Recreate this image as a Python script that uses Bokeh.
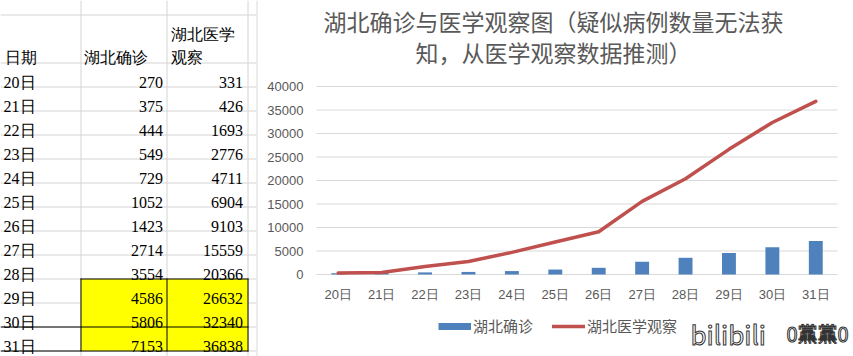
from bokeh.plotting import figure
from bokeh.models import Range1d, Legend, LegendItem, ColumnDataSource, Label
from bokeh.embed import file_html
from bokeh.resources import INLINE
from bokeh.core.properties import value

# ---------------- data ----------------
days = ["20日", "21日", "22日", "23日", "24日", "25日",
        "26日", "27日", "28日", "29日", "30日", "31日"]
confirmed = [270, 375, 444, 549, 729, 1052, 1423, 2714, 3554, 4586, 5806, 7153]
observed = [331, 426, 1693, 2776, 4711, 6904, 9103, 15559, 20366, 26632, 32340, 36838]
y_ticks = [0, 5000, 10000, 15000, 20000, 25000, 30000, 35000, 40000]
header_day = "日期"
header_confirmed = "湖北确诊"
header_observed = ["湖北医学", "观察"]
series_names = ["湖北确诊", "湖北医学观察"]
title_lines = ["湖北确诊与医学观察图（疑似病例数量无法获", "知，从医学观察数据推测）"]
highlight_days = ["29日", "30日", "31日"]
watermark_parts = ["bilibili", "0黨黨0"]

# ---------------- page geometry ----------------
W, H = 853, 356
FR_L, FR_R, FR_T, FR_B = 316, 837, 86, 274     # chart plot area (pixels)
YMAX = y_ticks[-1]
GRAY = "#595959"
GRID = "#D4D4D4"

p = figure(width=W, height=H, x_range=Range1d(0, W), y_range=Range1d(H, 0),
           output_backend="svg", toolbar_location=None, min_border=0,
           x_axis_type=None, y_axis_type=None, title=None)
p.grid.visible = False
p.outline_line_color = None

n = len(days)
cw = (FR_R - FR_L) / n
vpp = YMAX / (FR_B - FR_T)
p.extra_x_ranges = {"cat": Range1d(-FR_L / cw, n + (W - FR_R) / cw)}
p.extra_y_ranges = {"val": Range1d(-(H - FR_B) * vpp, YMAX + FR_T * vpp)}

# ---------------- table (spreadsheet cells) ----------------
row_top0, row_h = 62, 24
col_lines = [80.5, 166.5, 247.5]
row_tops = [row_top0 + i * row_h for i in range(n)]
h_lines = [14.5] + [row_top0 + i * row_h + 0.5 for i in range(n + 1)]
p.segment(x0=[0] * len(h_lines), x1=[256] * len(h_lines), y0=h_lines, y1=h_lines,
          line_color=GRID, line_width=1)
p.segment(x0=col_lines, x1=col_lines, y0=[0] * 3, y1=[H] * 3,
          line_color=GRID, line_width=1)
# chart object border
p.segment(x0=[256.5], x1=[256.5], y0=[0], y1=[H], line_color="#D9D9D9", line_width=1)

hl_idx = [days.index(d) for d in highlight_days]
hl_tops = [row_tops[i] + 0.5 for i in hl_idx]
p.quad(left=[80.5] * len(hl_idx), right=[247.5] * len(hl_idx), top=hl_tops,
       bottom=[v + row_h for v in hl_tops], fill_color="#FFFF00", line_color=None)
first = hl_tops[0]
last_top = hl_tops[-1]
last_bot = last_top + row_h
p.segment(x0=[80, 0, 0], x1=[248, 248, 248], y0=[first, last_top, last_bot],
          y1=[first, last_top, last_bot], line_color="black", line_width=1)
p.segment(x0=col_lines, x1=col_lines, y0=[first - 0.5] * 3, y1=[last_bot + 0.5] * 3,
          line_color="black", line_width=1)

TF = value("Liberation Serif")
tsrc = ColumnDataSource(dict(
    day=days, c=[str(v) for v in confirmed], o=[str(v) for v in observed],
    y=[r + 20 for r in row_tops]))
p.text(x=3, y="y", text="day", source=tsrc, text_font=TF, text_font_size="16px",
       text_color="black", text_baseline="alphabetic", text_align="left")
p.text(x=162.5, y="y", text="c", source=tsrc, text_font=TF, text_font_size="16px",
       text_color="black", text_baseline="alphabetic", text_align="right")
p.text(x=242.5, y="y", text="o", source=tsrc, text_font=TF, text_font_size="16px",
       text_color="black", text_baseline="alphabetic", text_align="right")
p.text(x=[4, 83.5, 170.5, 170.5], y=[57, 57, 34, 57],
       text=[header_day, header_confirmed] + header_observed,
       text_font=TF, text_font_size="16px", text_color="black",
       text_baseline="alphabetic", text_align="left")

# ---------------- chart ----------------
xc = [i + 0.5 for i in range(n)]
csrc = ColumnDataSource(dict(x=xc, day=days, confirmed=confirmed, observed=observed))

# horizontal gridlines and value labels
p.segment(x0=FR_L, x1=FR_R, y0=y_ticks, y1=y_ticks, y_range_name="val",
          line_color="#D9D9D9", line_width=1)
p.text(x=303, y=y_ticks, text=[str(v) for v in y_ticks], y_range_name="val",
       text_align="right", text_baseline="middle", text_font=value("Liberation Sans"),
       text_font_size="13px", text_color=GRAY)
# category labels
p.text(x="x", y=FR_B + 20, text="day", source=csrc, x_range_name="cat",
       text_align="center", text_baseline="middle", text_font=value("Liberation Sans"),
       text_font_size="13px", text_color=GRAY)

bars = p.vbar(x="x", top="confirmed", width=0.32, source=csrc,
              x_range_name="cat", y_range_name="val",
              fill_color="#4F81BD", line_color=None)
line = p.line(x="x", y="observed", source=csrc, x_range_name="cat", y_range_name="val",
              line_color="#C0504D", line_width=3.5, line_join="round", line_cap="round")

# title
p.text(x=[553, 553], y=[20, 51], text=title_lines, text_align="center",
       text_baseline="middle", text_font=value("Noto Sans CJK SC"),
       text_font_size="23px", text_color=GRAY)

# legend: flat bar swatch via a line proxy in the bar colour (drawn off-canvas)
bar_swatch = p.line(x=[-20, -10], y=[-20, -20], line_color="#4F81BD",
                    line_width=7, line_cap="butt")
legend = Legend(items=[LegendItem(label=series_names[0], renderers=[bar_swatch]),
                       LegendItem(label=series_names[1], renderers=[line])],
                orientation="horizontal", location=(438, 20),
                border_line_color=None, background_fill_alpha=0,
                padding=0, margin=0, spacing=19, glyph_width=33, glyph_height=20,
                label_height=20, label_standoff=2, label_text_font_size="15px",
                label_text_color=GRAY, label_text_font="Noto Sans CJK SC")
p.add_layout(legend, "center")

# watermark (white text with dark outline)
for txt, wx, fs in zip(watermark_parts, [690, 786], ["26px", "20px"]):
    p.add_layout(Label(x=wx, y=333, text=txt, text_align="left", text_baseline="middle",
                       text_font="Noto Sans CJK SC", text_font_size=fs,
                       text_color="white", text_outline_color="#333333"))

open("out.html", "w").write(file_html(p, INLINE))
